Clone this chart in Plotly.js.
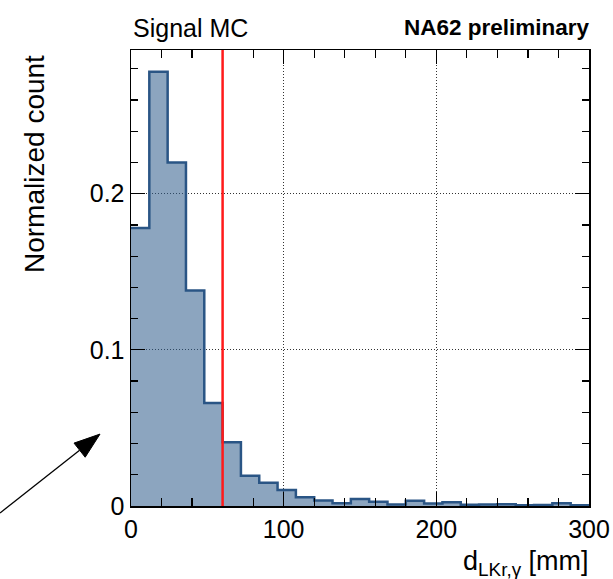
<!DOCTYPE html>
<html>
<head>
<meta charset="utf-8">
<script src="https://cdn.plot.ly/plotly-3.0.1.min.js"></script>
<style>html,body{margin:0;padding:0;background:#fff;}#chart{width:613px;height:579px;}</style>
</head>
<body>
<div id="chart"></div>
<script>
// Bin edges of d_LKr,gamma [mm] (12 mm bins)
const binEdges = [0,12,24,36,48,60,72,84,96,108,120,132,144,156,168,180,192,204,216,228,240,252,264,276,288,300];
// Normalized counts per bin
const counts = [0.178,0.278,0.220,0.138,0.066,0.0408,0.0194,0.0149,0.0102,0.0056,0.0036,0.0017,0.0045,0.0028,0.0010,0.0034,0.0016,0.0024,0.0008,0.0010,0.0012,0.0005,0.0006,0.0018,0.0005];
const cutValue = 60;
const xTicks = [0,100,200,300];
const yTicks = [0,0.1,0.2];
const yTickText = ["0","0.1","0.2"];

const stepY = counts.concat([counts[counts.length-1]]);
const FONT = "Liberation Sans, Arial, Helvetica, sans-serif";

const W = 613, H = 579, M = {l: 131, r: 24, t: 49.5, b: 73};
const PW = W - M.l - M.r, PH = H - M.t - M.b;
const px2paper = (px, py) => [(px - M.l) / PW, (H - M.b - py) / PH];

// arrow (decoration) in pixel space, converted to paper coords
const tail = [0, 513], tip = [100, 434];
const dx = tip[0] - tail[0], dy = tip[1] - tail[1], len = Math.hypot(dx, dy);
const ux = dx / len, uy = dy / len, headL = 26, headW = 9;
const base = [tip[0] - headL * ux, tip[1] - headL * uy];
const c1 = [base[0] - headW * uy, base[1] + headW * ux];
const c2 = [base[0] + headW * uy, base[1] - headW * ux];
const pT = px2paper(...tail), pB = px2paper(...base), pTip = px2paper(...tip), p1 = px2paper(...c1), p2 = px2paper(...c2);

const trace = {
  x: binEdges, y: stepY, type: 'scatter', mode: 'lines',
  line: {shape: 'hv', color: '#2a5585', width: 2.5},
  fill: 'tozeroy', fillcolor: 'rgba(46,91,139,0.55)',
  hoverinfo: 'skip', showlegend: false
};

const axisCommon = {
  showline: true, linecolor: '#000', linewidth: 1.5, mirror: 'ticks',
  ticks: 'inside', ticklen: 14, tickwidth: 1.2, tickcolor: '#000',
  showgrid: true, gridcolor: '#333', gridwidth: 1, griddash: '1px,2px',
  zeroline: false, tickfont: {family: FONT, size: 25, color: '#000'}
};

const layout = {
  width: W, height: H,
  margin: M,
  paper_bgcolor: '#fff', plot_bgcolor: '#fff',
  xaxis: Object.assign({}, axisCommon, {
    range: [0, 300], tickmode: 'array', tickvals: xTicks,
    minor: {dtick: 20, ticklen: 8, ticks: 'inside', tickcolor: '#000', tickwidth: 1.2, showgrid: false}
  }),
  yaxis: Object.assign({}, axisCommon, {
    range: [0, 0.292], tickmode: 'array', tickvals: yTicks, ticktext: yTickText,
    minor: {dtick: 0.02, ticklen: 7, ticks: 'inside', tickcolor: '#000', tickwidth: 1.2, showgrid: false}
  }),
  shapes: [
    {type: 'line', xref: 'x', yref: 'paper', x0: cutValue, x1: cutValue, y0: 0, y1: 1,
     line: {color: '#ff1a1a', width: 2.5}},
    {type: 'line', xref: 'paper', yref: 'paper', x0: pT[0], y0: pT[1], x1: pB[0], y1: pB[1],
     line: {color: '#000', width: 1.3}},
    {type: 'path', xref: 'paper', yref: 'paper',
     path: `M ${pTip[0]} ${pTip[1]} L ${p1[0]} ${p1[1]} L ${p2[0]} ${p2[1]} Z`,
     fillcolor: '#000', line: {color: '#000', width: 1}}
  ],
  annotations: [
    {text: 'Signal MC', xref: 'paper', yref: 'paper', x: 0, y: 1, xanchor: 'left', yanchor: 'bottom',
     yshift: 6, showarrow: false, font: {family: FONT, size: 25, color: '#000'}},
    {text: '<b>NA62 preliminary</b>', xref: 'paper', yref: 'paper', x: 1, y: 1, xanchor: 'right', yanchor: 'bottom',
     xshift: 3, yshift: 8, showarrow: false, font: {family: FONT, size: 22.5, color: '#000'}},
    {text: 'Normalized count', xref: 'paper', yref: 'paper', x: 0, y: 0.75, xshift: -97,
     xanchor: 'center', yanchor: 'middle', textangle: -90, showarrow: false,
     font: {family: FONT, size: 28, color: '#000'}},
    {text: 'd<sub>LKr,γ</sub> [mm]', xref: 'paper', yref: 'paper', x: 1, y: 0, xanchor: 'right', yanchor: 'top',
     xshift: 2, yshift: -38, showarrow: false, font: {family: FONT, size: 27, color: '#000'}}
  ]
};

Plotly.newPlot('chart', [trace], layout, {staticPlot: true, displayModeBar: false});
</script>
</body>
</html>
